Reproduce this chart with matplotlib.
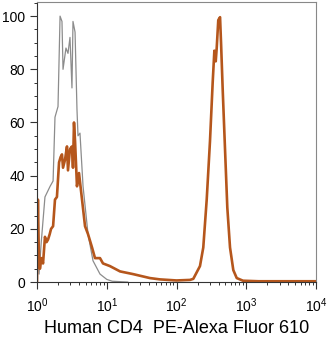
import numpy as np
import matplotlib.pyplot as plt
from matplotlib.ticker import MultipleLocator, LogLocator, NullFormatter

plt.rcParams['font.family'] = ['Liberation Sans', 'DejaVu Sans']

# isotype control (gray)
ctrl_x = [1.0, 1.0, 1.02, 1.07, 1.15, 1.30, 1.54, 1.70, 1.81, 2.0, 2.14, 2.28, 2.36, 2.6, 2.78,
          2.97, 3.17, 3.28, 3.51, 3.74, 3.87, 4.13, 4.57, 5.39, 6.35, 8.0, 10.0, 12.0, 20.0]
ctrl_y = [0, 56, 20, 3, 15, 32, 36, 38, 62, 66, 100, 98, 80, 88, 86,
          92, 73, 98, 94, 65, 55, 56, 36, 18, 8, 3, 1, 0.3, 0]

# CD4 stained (orange)
cd4_x = [1.0, 1.03, 1.06, 1.10, 1.16, 1.22, 1.30, 1.37, 1.44, 1.52, 1.59, 1.70, 1.81, 1.93, 2.07,
         2.18, 2.28, 2.36, 2.52, 2.69, 2.78, 2.97, 3.17, 3.28, 3.39, 3.51, 3.74, 4.00, 4.42, 4.88,
         5.39, 6.15, 6.78, 8.0, 8.83, 11.1, 15.5, 23.7, 41.5, 57.8, 100, 156,
         174, 217, 242, 271, 302, 330, 349, 365, 377, 397, 421, 435, 460, 496, 535, 585,
         652, 730, 898, 1500, 10000]
cd4_y = [0, 31, 12, 5, 9, 7, 17, 15, 16, 18, 20, 21, 31, 32, 45,
         47, 48, 43, 46, 51, 42, 50, 51, 43, 60, 53, 36, 41, 31, 21,
         18, 13, 9, 9, 7, 6, 4, 3, 1.5, 1, 0.6, 0.8,
         1.2, 6, 13, 31, 53, 75, 87, 83, 88, 98.5, 99.6, 90, 72, 50, 28, 13,
         4.5, 1.5, 0.5, 0.3, 0.3]

fig = plt.figure(figsize=(3.29, 3.39), dpi=100)
ax = fig.add_axes([0.1125, 0.168, 0.848, 0.826])

ax.plot(ctrl_x, ctrl_y, color='#8c8c8c', lw=0.9)
ax.plot(cd4_x, cd4_y, color='#b5561c', lw=1.9)

ax.set_xscale('log')
ax.set_xlim(1, 1e4)
ax.set_ylim(0, 105.3)
ax.yaxis.set_major_locator(MultipleLocator(20))
ax.yaxis.set_minor_locator(MultipleLocator(5))
ax.xaxis.set_minor_locator(LogLocator(base=10, subs=np.arange(2, 10)))
ax.xaxis.set_minor_formatter(NullFormatter())

for s in ['top', 'right']:
    ax.spines[s].set_color('#888888')
for s in ['left', 'bottom']:
    ax.spines[s].set_color('#333333')

ax.tick_params(which='major', length=5, width=0.8, labelsize=10, color='#333333', top=False, right=False)
ax.tick_params(which='minor', length=2.5, width=0.7, color='#333333', top=False, right=False)
ax.tick_params(axis='x', pad=5)

ax.set_xlabel('Human CD4  PE-Alexa Fluor 610', fontsize=13, labelpad=4)

fig.savefig('out.png', dpi=100)
